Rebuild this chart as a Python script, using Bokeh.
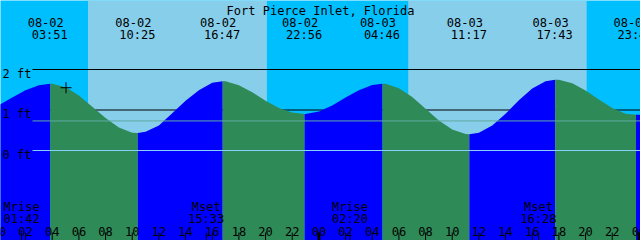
from bokeh.plotting import figure
from bokeh.models import Range1d
from bokeh.core.properties import value
from bokeh.embed import file_html
from bokeh.resources import INLINE

# ---------------- data ----------------
title = "Fort Pierce Inlet, Florida"
event_dates = ["08-02", "08-02", "08-02", "08-02", "08-03", "08-03", "08-03", "08-03"]
event_times = ["03:51", "10:25", "16:47", "22:56", "04:46", "11:17", "17:43", "23:47"]
event_heights = [1.65, 0.43, 1.71, 0.90, 1.65, 0.40, 1.75, 0.88]

hour_times = list(range(0, 50))
hour_heights = [1.12, 1.31, 1.49, 1.61, 1.65, 1.56, 1.36, 1.08, 0.80, 0.57,
                0.44, 0.46, 0.62, 0.92, 1.23, 1.49, 1.67, 1.71, 1.61, 1.44,
                1.23, 1.05, 0.94, 0.90, 0.96, 1.11, 1.31, 1.49, 1.62, 1.65,
                1.54, 1.32, 1.03, 0.74, 0.52, 0.41, 0.44, 0.62, 0.91, 1.24,
                1.53, 1.71, 1.75, 1.66, 1.48, 1.26, 1.05, 0.91, 0.88, 0.93]

sunrise = [("08-02", "06:41"), ("08-03", "06:42")]
sunset = [("08-02", "20:06"), ("08-03", "20:05")]
moon_names = ["Mrise", "Mset", "Mrise", "Mset"]
moon_dates = ["08-02", "08-02", "08-03", "08-03"]
moon_times = ["01:42", "15:33", "02:20", "16:28"]
depth_levels = [2, 1]
depth_labels = ["2 ft", "1 ft", "0 ft"]
label_levels = [2, 1, 0]
datum_level = 0.0
msl_level = 0.73
now_date, now_time, now_height = "08-02", "05:02", 1.55
tick_hours = list(range(0, 49, 2))
tick_labels = ["%02d" % (h % 24) for h in tick_hours]

# ---------------- layout ----------------
W, H = 640, 240
T0 = 0.12
PXH = W / 48.0
ZERO_PX = 150.0
FT_PX = 40.5
NIGHT_BG = "#00bfff"
DAY_BG = "#87ceeb"
RISE = "#0000ff"
FALL = "#2e8b57"
FONT = value("DejaVu Sans Mono")
FS = "12px"


def hrs(d, hm):
    day = int(d[3:]) - 2
    h, m = hm.split(":")
    return day * 24 + int(h) + int(m) / 60.0


def xpx(p):
    return T0 + p / PXH


def ypx(p):
    return (ZERO_PX - p) / FT_PX


YTOP = ypx(0)
YBOT = ypx(H)

p = figure(width=W, height=H, x_range=Range1d(T0, T0 + 48), y_range=Range1d(YBOT, YTOP),
           output_backend="svg", toolbar_location=None, min_border=0,
           x_axis_type=None, y_axis_type=None)
p.outline_line_color = None
p.grid.visible = False
p.background_fill_color = NIGHT_BG
p.border_fill_color = NIGHT_BG

# day bands
rise_t = [hrs(d, t) for d, t in sunrise]
set_t = [hrs(d, t) for d, t in sunset]
p.quad(left=rise_t, right=set_t, bottom=YBOT, top=YTOP, fill_color=DAY_BG, line_color=None)

# depth lines (under the tide)
p.segment(x0=[xpx(32)] * len(depth_levels), x1=[T0 + 48] * len(depth_levels),
          y0=depth_levels, y1=depth_levels, line_color="black", line_width=1)

# tide curve
ev_t = [hrs(d, t) for d, t in zip(event_dates, event_times)]
pts = sorted(list(zip(hour_times, hour_heights)) + list(zip(ev_t, event_heights)))
bounds = [hour_times[0]] + ev_t + [hour_times[-1]]
for a, b in zip(bounds[:-1], bounds[1:]):
    seg = [(t, h) for t, h in pts if a <= t <= b]
    xs = [t for t, _ in seg]
    ys = [h for _, h in seg]
    col = RISE if ys[-1] > ys[0] else FALL
    p.varea(x=xs, y1=[YBOT] * len(xs), y2=ys, fill_color=col)

# datum and MSL lines (over the tide)
p.segment(x0=[xpx(32)], x1=[T0 + 48], y0=[msl_level], y1=[msl_level], line_color="#5fa8a0", line_width=1)
p.segment(x0=[xpx(32)], x1=[T0 + 48], y0=[datum_level], y1=[datum_level], line_color="#87cefa", line_width=1)

# current time marker
p.scatter(x=[hrs(now_date, now_time)], y=[now_height], marker="cross", size=11,
          line_color="black", line_width=1)

# texts
p.text(x=[T0 + 24], y=[ypx(10)], text=[title], text_font=FONT, text_font_size=FS,
       text_align="center", text_baseline="alphabetic", text_color="black")
p.text(x=ev_t, y=[ypx(22)] * len(ev_t), text=event_dates, text_font=FONT, text_font_size=FS,
       text_align="center", text_baseline="alphabetic", x_offset=-4.5, text_color="black")
p.text(x=ev_t, y=[ypx(34.5)] * len(ev_t), text=event_times, text_font=FONT, text_font_size=FS,
       text_align="center", text_baseline="alphabetic", x_offset=-0.5, text_color="black")
p.text(x=[xpx(2)] * 3, y=[ypx(73), ypx(113.5), ypx(154)], text=depth_labels, text_font=FONT,
       text_font_size=FS, text_align="left", text_baseline="alphabetic", text_color="black")

moon_t = [hrs(d, t) for d, t in zip(moon_dates, moon_times)]
p.text(x=moon_t, y=[ypx(206)] * 4, text=moon_names, text_font=FONT, text_font_size=FS,
       text_align="center", text_baseline="alphabetic", text_color="black")
p.text(x=moon_t, y=[ypx(218.5)] * 4, text=moon_times, text_font=FONT, text_font_size=FS,
       text_align="center", text_baseline="alphabetic", text_color="black")
p.text(x=tick_hours, y=[ypx(230.5)] * len(tick_hours), text=tick_labels, text_font=FONT,
       text_font_size=FS, text_align="center", text_baseline="alphabetic", text_color="black")

# tick marks
p.segment(x0=tick_hours, x1=tick_hours, y0=[ypx(232)] * len(tick_hours), y1=[YBOT] * len(tick_hours),
          line_color="black", line_width=1)
mid = [h for h in tick_hours if h % 24 == 0]
p.segment(x0=mid, x1=mid, y0=[ypx(232)] * len(mid), y1=[YBOT] * len(mid), line_color="black", line_width=3)
p.segment(x0=moon_t, x1=moon_t, y0=[ypx(232)] * 4, y1=[YBOT] * 4, line_color="black", line_width=1)

open("out.html", "w").write(file_html(p, INLINE))
